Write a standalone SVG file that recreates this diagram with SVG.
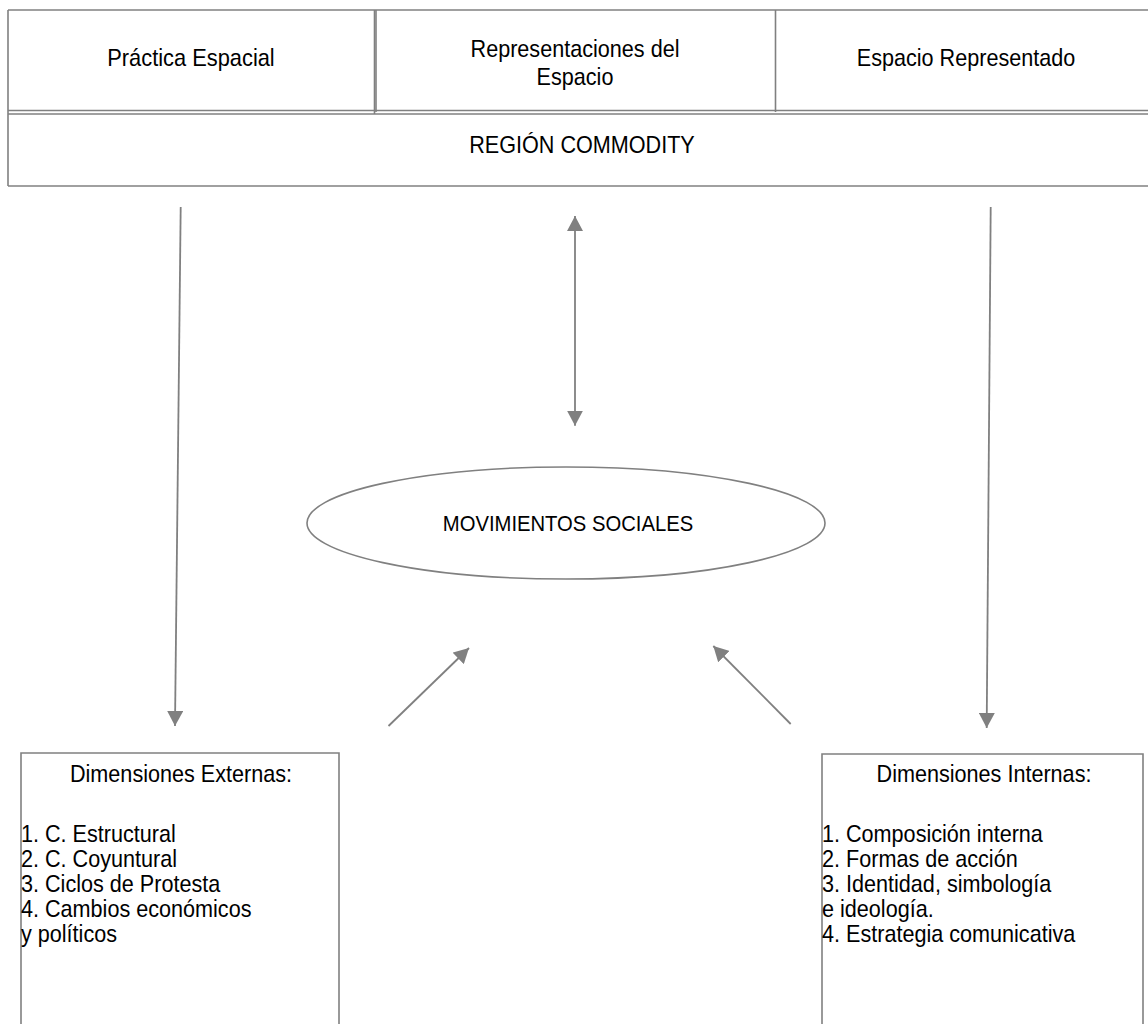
<svg xmlns="http://www.w3.org/2000/svg" width="1148" height="1024" viewBox="0 0 1148 1024">
<defs>
<style>
.bd{fill:none;stroke:#808080;stroke-width:1.6}
.ln{fill:none;stroke:#808080;stroke-width:1.8}
.tx{font-family:"Liberation Sans",Arial,sans-serif;font-size:24px;fill:#000}
.c{text-anchor:middle}
</style>
<marker id="ah" viewBox="0 0 15 16" refX="15" refY="8" markerWidth="15" markerHeight="16" markerUnits="userSpaceOnUse" orient="auto-start-reverse">
<path d="M0,0 L15,8 L0,16 z" fill="#808080"/>
</marker>
</defs>
<rect width="1148" height="1024" fill="#fff"/>
<g id="top-table">
<line class="bd" x1="8" y1="10" x2="1148" y2="10"/>
<line class="bd" x1="8" y1="10" x2="8" y2="186"/>
<line class="bd" x1="8" y1="186" x2="1148" y2="186"/>
<line class="bd" x1="8" y1="110.5" x2="1148" y2="110.5"/>
<line class="bd" x1="8" y1="114" x2="1148" y2="114"/>
<line class="bd" x1="374.5" y1="10" x2="374.5" y2="114"/>
<line class="bd" x1="376" y1="10" x2="376" y2="112"/>
<line class="bd" x1="775.5" y1="10" x2="775.5" y2="112"/>
</g>
<g id="practica-espacial"><text class="tx c" transform="translate(191,66) scale(0.91,1)">Práctica Espacial</text></g>
<g id="representaciones-del-espacio"><text class="tx c" transform="translate(575,57) scale(0.9,1)">Representaciones del</text><text class="tx c" transform="translate(575,85) scale(0.9,1)">Espacio</text></g>
<g id="espacio-representado"><text class="tx c" transform="translate(966,66) scale(0.9,1)">Espacio Representado</text></g>
<g id="region-commodity"><text class="tx c" transform="translate(582,153) scale(0.9,1)">REGIÓN COMMODITY</text></g>
<g id="movimientos-sociales">
<ellipse class="bd" cx="566" cy="523" rx="259" ry="56"/>
<text class="tx c" transform="translate(568,531) scale(0.9,1)" style="font-size:22.5px">MOVIMIENTOS SOCIALES</text>
</g>
<g id="dimensiones-externas">
<polyline class="bd" points="21,1024 21,753 339,753 339,1024"/>
<text class="tx c" transform="translate(181,782) scale(0.9,1)">Dimensiones Externas:</text>
<text class="tx" transform="translate(21,842) scale(0.9,1)">1. C. Estructural</text>
<text class="tx" transform="translate(21,867) scale(0.9,1)">2. C. Coyuntural</text>
<text class="tx" transform="translate(21,892) scale(0.9,1)">3. Ciclos de Protesta</text>
<text class="tx" transform="translate(21,917) scale(0.9,1)">4. Cambios económicos</text>
<text class="tx" transform="translate(21,942) scale(0.9,1)">y políticos</text>
</g>
<g id="dimensiones-internas">
<polyline class="bd" points="822,1024 822,754 1143,754 1143,1024"/>
<text class="tx c" transform="translate(984,782) scale(0.9,1)">Dimensiones Internas:</text>
<text class="tx" transform="translate(822,842) scale(0.9,1)">1. Composición interna</text>
<text class="tx" transform="translate(822,867) scale(0.9,1)">2. Formas de acción</text>
<text class="tx" transform="translate(822,892) scale(0.9,1)">3. Identidad, simbología</text>
<text class="tx" transform="translate(822,917) scale(0.9,1)">e ideología.</text>
<text class="tx" transform="translate(822,942) scale(0.9,1)">4. Estrategia comunicativa</text>
</g>
<g id="connectors">
<line class="ln" x1="180.7" y1="207" x2="175" y2="726" marker-end="url(#ah)"/>
<line class="ln" x1="990.7" y1="207" x2="986.7" y2="728" marker-end="url(#ah)"/>
<line class="ln" x1="575" y1="216" x2="575" y2="425.7" marker-start="url(#ah)" marker-end="url(#ah)"/>
<line class="ln" x1="388.5" y1="726" x2="469" y2="648" marker-end="url(#ah)"/>
<line class="ln" x1="790.7" y1="724" x2="713.3" y2="646" marker-end="url(#ah)"/>
</g>
</svg>
